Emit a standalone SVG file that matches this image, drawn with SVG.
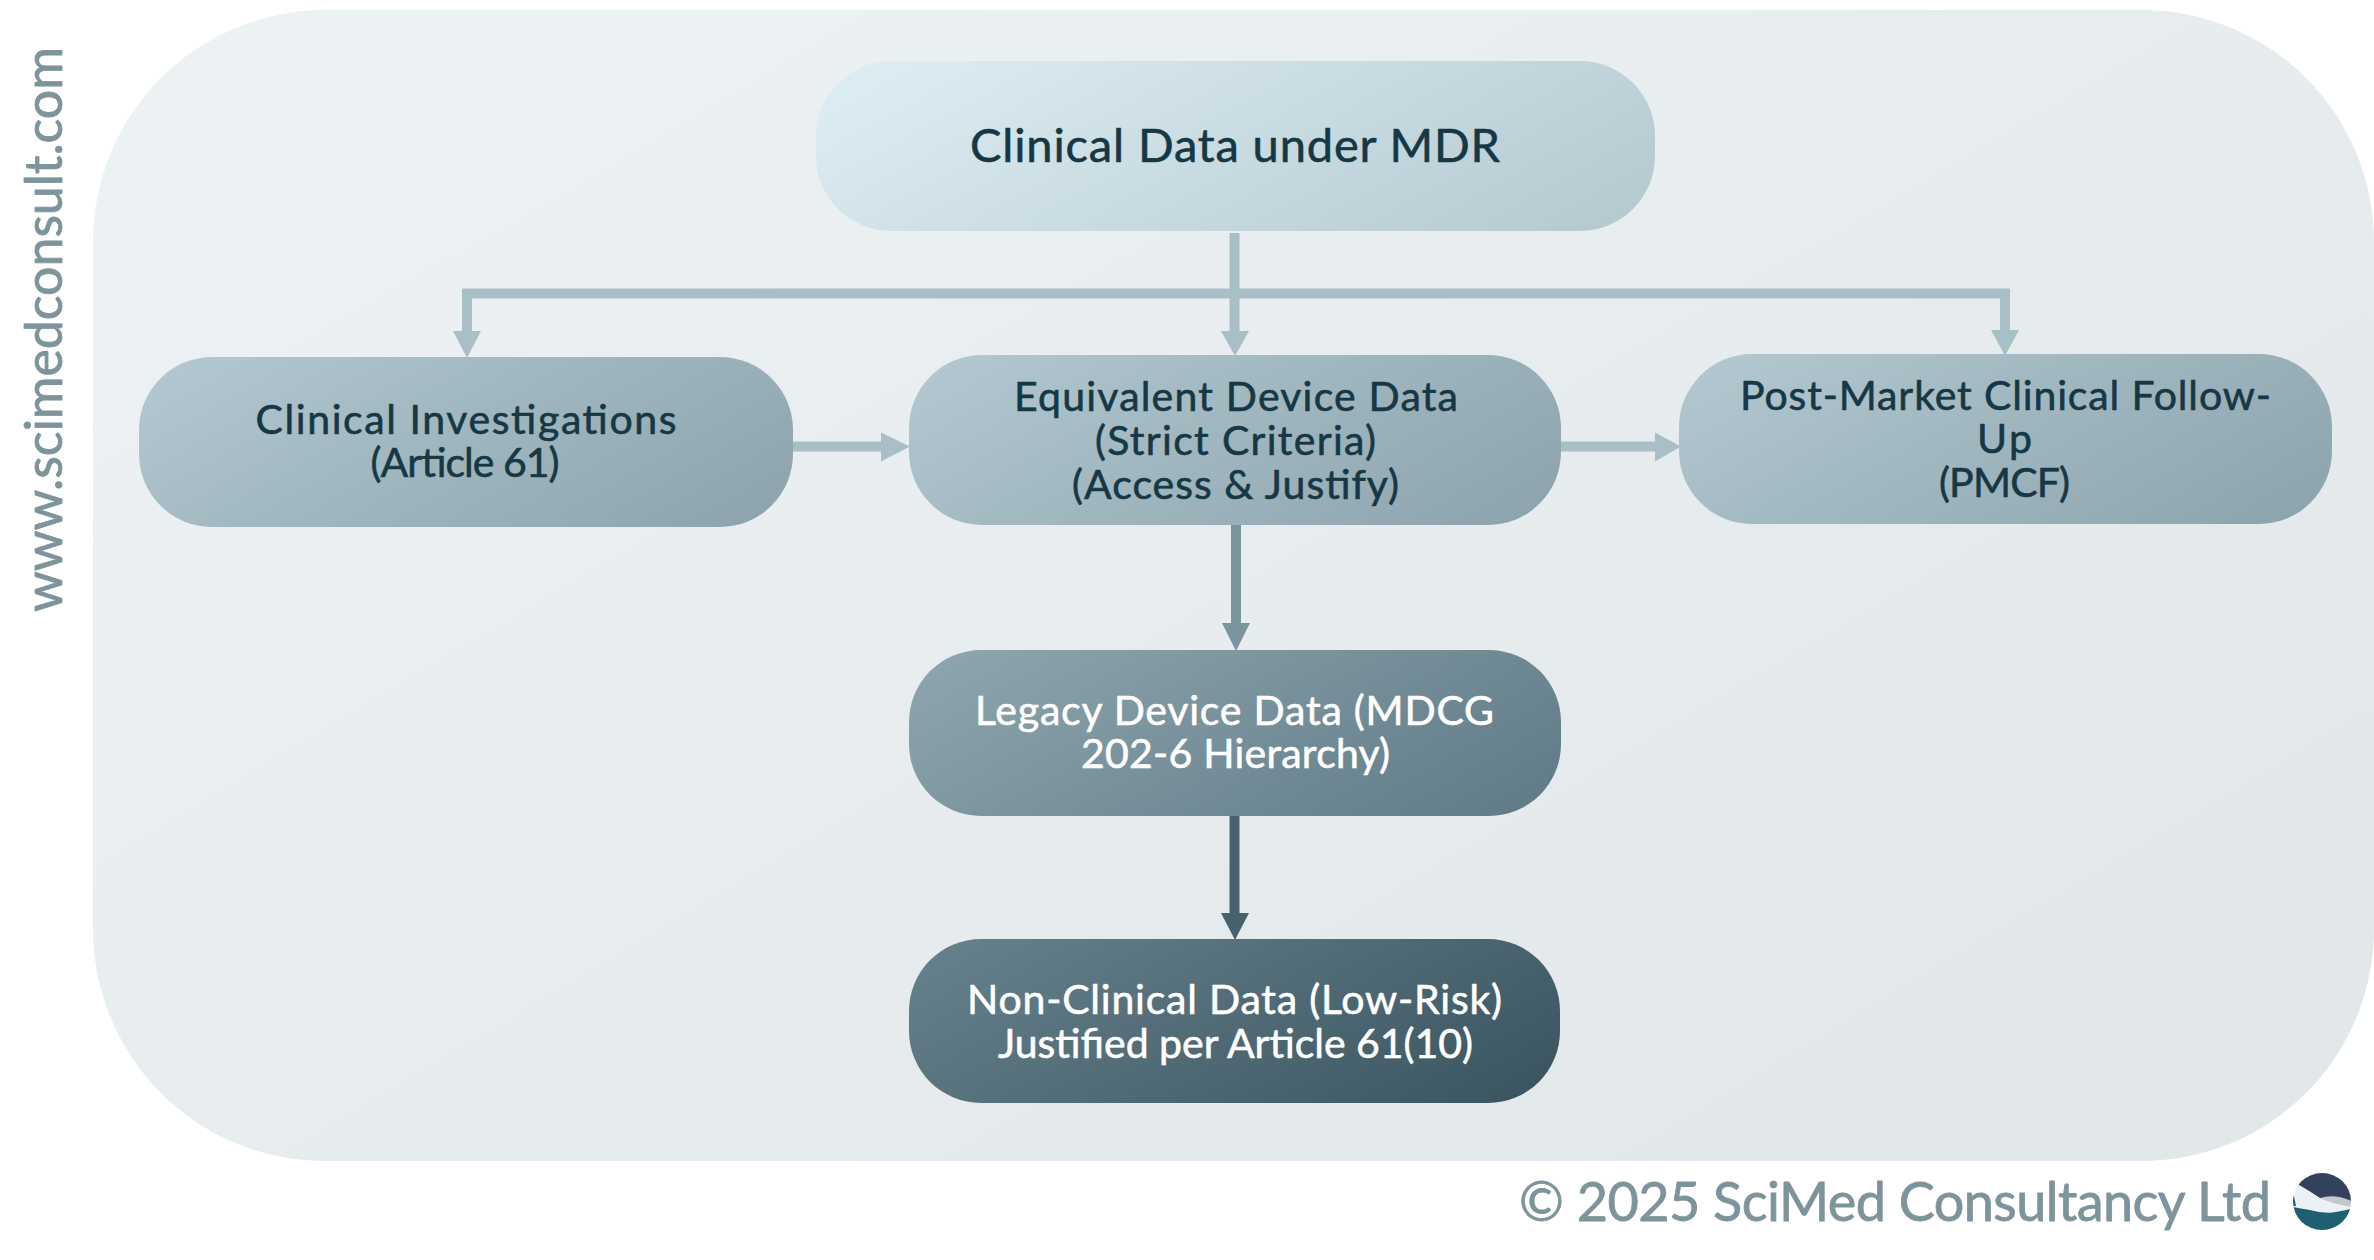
<svg xmlns="http://www.w3.org/2000/svg" width="2374" height="1260" viewBox="0 0 2374 1260">
<style>
text{font-family:"Lato","Open Sans","Liberation Sans",sans-serif;text-anchor:middle;font-weight:400;stroke-linejoin:round}
.d{fill:#163844;stroke:#163844;stroke-width:.6;font-size:41px}
.w{fill:#ffffff;stroke:#ffffff;stroke-width:.6;font-size:41px}
.g{fill:#7d949c;stroke:#7d949c;stroke-width:.8}
.a{fill:none;stroke-width:10}
.l{stroke:#a9bfc8}.lh{fill:#a9bfc8}
</style>
<defs>
<linearGradient id="gp" gradientUnits="userSpaceOnUse" x1="800" y1="-150" x2="1670" y2="1320"><stop offset="0" stop-color="#ecf2f4"/><stop offset="1" stop-color="#e2e7ea"/></linearGradient>
<linearGradient id="s1"><stop offset="0" stop-color="#deeff4"/><stop offset="1" stop-color="#b4c8d0"/></linearGradient>
<linearGradient id="s2"><stop offset="0" stop-color="#b4c9d1"/><stop offset="1" stop-color="#8ba2ac"/></linearGradient>
<linearGradient id="s3"><stop offset="0" stop-color="#8fa7b0"/><stop offset="1" stop-color="#5e7985"/></linearGradient>
<linearGradient id="s4"><stop offset="0" stop-color="#68838e"/><stop offset="1" stop-color="#38525e"/></linearGradient>
<linearGradient id="g1" href="#s1" gradientUnits="userSpaceOnUse" x1="1105" y1="-90" x2="1365" y2="382"/>
<linearGradient id="ga" href="#s2" gradientUnits="userSpaceOnUse" x1="348" y1="236" x2="584" y2="648"/>
<linearGradient id="gb" href="#s2" gradientUnits="userSpaceOnUse" x1="1117" y1="234" x2="1353" y2="646"/>
<linearGradient id="gc" href="#s2" gradientUnits="userSpaceOnUse" x1="1887" y1="233" x2="2123" y2="645"/>
<linearGradient id="g3" href="#s3" gradientUnits="userSpaceOnUse" x1="1117" y1="527" x2="1353" y2="939"/>
<linearGradient id="g4" href="#s4" gradientUnits="userSpaceOnUse" x1="1117" y1="815" x2="1353" y2="1226"/>
<clipPath id="lc"><ellipse cx="2322" cy="1201.5" rx="29" ry="28.5"/></clipPath>
</defs>
<rect id="panel" x="93" y="10" width="2281" height="1151" rx="232" ry="232" fill="url(#gp)"/>
<g id="connectors">
<path class="a l" d="M467 335V293.500H2005V335"/>
<path class="a l" d="M1234.500 233V335"/>
<path class="lh" d="M453 331H481L467 358ZM1221 331H1249L1235 356ZM1991 330H2019L2005 356Z"/>
<path class="a l" d="M790 446.500H885"/>
<path class="lh" d="M881 432.500L910 446.500L881 461.500Z"/>
<path class="a l" d="M1561 446.500H1660"/>
<path class="lh" d="M1655 432.500L1681 446.500L1655 461.500Z"/>
<path class="a" stroke="#7a95a0" d="M1236 525V628"/>
<path fill="#7a95a0" d="M1222 623H1250L1236 651Z"/>
<path class="a" stroke="#46626e" d="M1234.500 816V918"/>
<path fill="#46626e" d="M1221 913H1249L1235 940Z"/>
</g>
<g id="node-top"><rect x="816" y="61" width="839" height="170" rx="75" fill="url(#g1)"/>
<text class="d" style="font-size:47px" x="1235" y="162" textLength="530">Clinical Data under MDR</text></g>
<g id="node-clinical"><rect x="139" y="357" width="654" height="170" rx="73" fill="url(#ga)"/>
<text class="d" x="466" y="434" textLength="421">Clinical Investigations</text>
<text class="d" x="465" y="477" textLength="189">(Article 61)</text></g>
<g id="node-equivalent"><rect x="909" y="355" width="652" height="170" rx="73" fill="url(#gb)"/>
<text class="d" x="1236" y="411" textLength="444">Equivalent Device Data</text>
<text class="d" x="1235.500" y="455" textLength="281">(Strict Criteria)</text>
<text class="d" x="1235.500" y="499" textLength="327">(Access &amp; Justify)</text></g>
<g id="node-pmcf"><rect x="1679" y="354" width="653" height="170" rx="73" fill="url(#gc)"/>
<text class="d" x="2005.500" y="410" textLength="531">Post-Market Clinical Follow-</text>
<text class="d" x="2004.500" y="453" textLength="55">Up</text>
<text class="d" x="2004.500" y="497" textLength="131">(PMCF)</text></g>
<g id="node-legacy"><rect x="909" y="650" width="652" height="166" rx="72" fill="url(#g3)"/>
<text class="w" x="1234.500" y="725" textLength="519">Legacy Device Data (MDCG</text>
<text class="w" x="1235.500" y="768" textLength="309">202-6 Hierarchy)</text></g>
<g id="node-nonclinical"><rect x="909" y="939" width="651" height="164" rx="72" fill="url(#g4)"/>
<text class="w" x="1234.500" y="1014" textLength="535">Non-Clinical Data (Low-Risk)</text>
<text class="w" x="1235.500" y="1058" textLength="475">Justified per Article 61(10)</text></g>
<text id="website" class="g" style="font-size:52px" transform="translate(62 329.500) rotate(-90)" textLength="565">www.scimedconsult.com</text>
<text id="copyright" class="g" style="font-size:54px" x="1895" y="1221" textLength="752">© 2025 SciMed Consultancy Ltd</text>
<g id="logo" clip-path="url(#lc)">
<rect x="2290" y="1170" width="64" height="64" fill="#eef1f3"/>
<path fill="#33415c" d="M2290 1170H2354V1202Q2335 1201 2320 1198Q2308 1190 2299 1185Z"/>
<path fill="#c3c8ce" d="M2320 1198Q2335 1193 2354 1202V1207Q2335 1205 2320 1198Z"/>
<path fill="#1f5f73" d="M2290 1206.500Q2302 1209 2310 1210Q2320 1213 2330 1212.700Q2340 1212 2354 1208V1234H2290Z"/>
<path fill="#1f5f73" d="M2290 1196H2294L2296 1206H2290Z"/>
</g>
</svg>
